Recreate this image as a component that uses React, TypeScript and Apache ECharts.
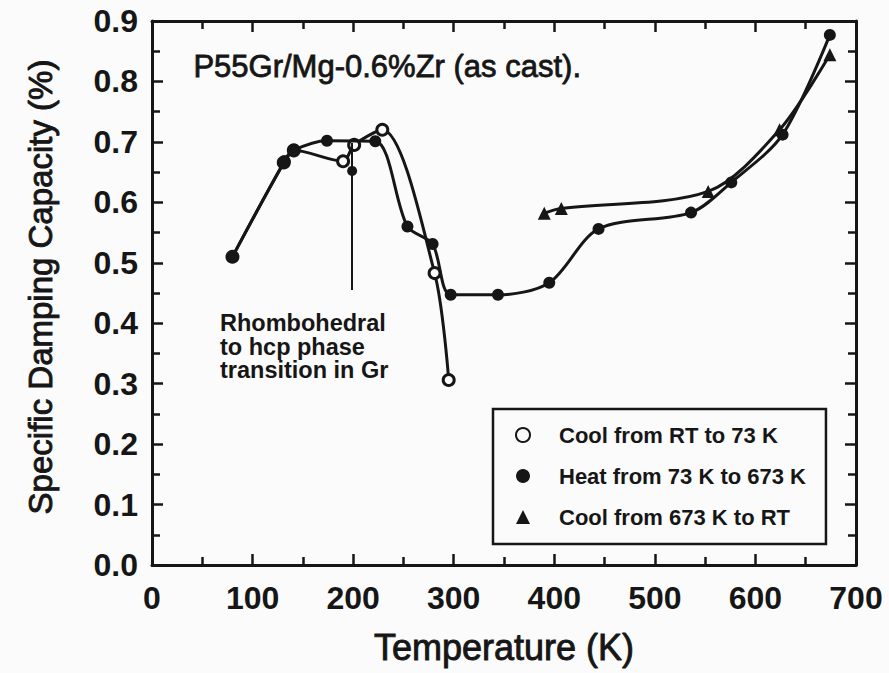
import React, { useEffect, useRef } from "react";
import * as echarts from "echarts";

// Specific damping capacity (%) vs temperature (K), P55Gr/Mg-0.6%Zr as cast
const coolFromRT: [number, number][] = [
  [80, 0.51], [131, 0.666], [141, 0.686], [190, 0.668], [201, 0.695],
  [229, 0.72], [281, 0.483], [295, 0.306],
];
const heatTo673: [number, number][] = [
  [80, 0.51], [132, 0.668], [141, 0.686], [174, 0.702], [222, 0.701],
  [254, 0.56], [279, 0.531], [297, 0.447], [344, 0.447], [395, 0.467],
  [444, 0.556], [536, 0.583], [576, 0.633], [627, 0.712], [674, 0.877],
];
const coolFrom673: [number, number][] = [
  [390, 0.582], [407, 0.59], [553, 0.618], [624, 0.72], [674, 0.844],
];
// phase-transition marker: vertical line and the point it flags
const transitionLine: [number, number][] = [[199, 0.698], [199, 0.455]];
const transitionPoint: [number, number] = [199, 0.652];

const seriesNames = [
  "Cool from RT to 73 K",
  "Heat from 73 K to 673 K",
  "Cool from 673 K to RT",
];
const xTicks = [0, 100, 200, 300, 400, 500, 600, 700];
const yTicks = [0, 0.1, 0.2, 0.3, 0.4, 0.5, 0.6, 0.7, 0.8, 0.9];

const INK = "#161616";
const PAPER = "#fbfbfb";
const FONT = "'Liberation Sans', Arial, Helvetica, sans-serif";

export default function App() {
  const ref = useRef<HTMLDivElement>(null);

  useEffect(() => {
    if (!ref.current) return;
    const chart = echarts.init(ref.current, undefined, { renderer: "svg" });

    const axisCommon = {
      axisLine: { show: true, onZero: false, lineStyle: { color: INK, width: 3 } },
      axisTick: { show: true, inside: true, length: 11, lineStyle: { color: INK, width: 2.5 } },
      minorTick: { show: true, splitNumber: 2, length: 8, lineStyle: { color: INK, width: 2.5 } },
      splitLine: { show: false },
      minorSplitLine: { show: false },
    };

    const xMin = xTicks[0];
    const xMax = xTicks[xTicks.length - 1];
    const xStep = xTicks[1] - xTicks[0];
    const yMin = yTicks[0];
    const yMax = yTicks[yTicks.length - 1];
    const yStep = 0.1;

    // medium-weight titles: regular face with a thin outline
    const titleInk = { color: INK, fontFamily: FONT, textBorderColor: INK, textBorderWidth: 0.9 };

    chart.setOption({
      animation: false,
      backgroundColor: PAPER,
      grid: { left: 152, right: 33, top: 21, bottom: 108, containLabel: false },
      xAxis: [
        {
          ...axisCommon,
          type: "value",
          position: "bottom",
          min: xMin,
          max: xMax,
          interval: xStep,
          axisLabel: {
            color: INK, fontFamily: FONT, fontSize: 32, fontWeight: "bold", margin: 17,
          },
          name: "Temperature (K)",
          nameLocation: "middle",
          nameGap: 64,
          nameTextStyle: { ...titleInk, fontSize: 36 },
        },
        {
          ...axisCommon,
          type: "value",
          position: "top",
          min: xMin,
          max: xMax,
          interval: xStep,
          axisLabel: { show: false },
        },
      ],
      yAxis: [
        {
          ...axisCommon,
          type: "value",
          position: "left",
          min: yMin,
          max: yMax,
          interval: yStep,
          axisLabel: {
            color: INK, fontFamily: FONT, fontSize: 32, fontWeight: "bold", margin: 14,
            formatter: (v: number) => v.toFixed(1),
          },
          name: "Specific Damping Capacity (%)",
          nameLocation: "middle",
          nameGap: 95,
          nameTextStyle: { ...titleInk, fontSize: 33, padding: [0, 0, 0, 12] },
        },
        {
          ...axisCommon,
          type: "value",
          position: "right",
          min: yMin,
          max: yMax,
          interval: yStep,
          axisLabel: { show: false },
        },
      ],
      legend: {
        orient: "vertical",
        left: 493,
        top: 409,
        padding: [15, 20, 16, 22],
        borderColor: INK,
        borderWidth: 2.5,
        backgroundColor: PAPER,
        itemWidth: 14,
        itemHeight: 14,
        itemGap: 19,
        textStyle: {
          color: INK, fontFamily: FONT, fontSize: 22, fontWeight: "bold",
          padding: [0, 0, 0, 24],
        },
        data: [
          { name: seriesNames[0], icon: "circle" },
          { name: seriesNames[1], icon: "circle" },
          { name: seriesNames[2], icon: "triangle" },
        ],
      },
      graphic: [
        {
          type: "text",
          left: 193,
          top: 51,
          style: {
            text: "P55Gr/Mg-0.6%Zr (as cast).",
            fill: INK,
            stroke: INK,
            lineWidth: 0.8,
            font: `31px ${FONT}`,
          },
        },
        {
          type: "text",
          left: 220,
          top: 311,
          style: {
            text: "Rhombohedral\nto hcp phase\ntransition in Gr",
            fill: INK,
            font: `bold 23.5px ${FONT}`,
            lineHeight: 23.5,
          },
        },
      ],
      series: [
        {
          name: seriesNames[1],
          type: "line",
          data: heatTo673,
          smooth: 0.3,
          symbol: "circle",
          symbolSize: 12,
          itemStyle: { color: INK },
          lineStyle: { color: INK, width: 3 },
          z: 4,
          markLine: {
            silent: true,
            symbol: ["none", "none"],
            label: { show: false },
            lineStyle: { color: INK, width: 2, type: "solid" },
            data: [[{ coord: transitionLine[0] }, { coord: transitionLine[1] }]],
          },
          markPoint: {
            silent: true,
            symbol: "circle",
            symbolSize: 10,
            label: { show: false },
            itemStyle: { color: INK },
            data: [{ coord: transitionPoint }],
          },
        },
        {
          name: seriesNames[0],
          type: "line",
          data: coolFromRT,
          smooth: 0.3,
          symbol: "circle",
          symbolSize: 11,
          itemStyle: { color: PAPER, borderColor: INK, borderWidth: 3 },
          lineStyle: { color: INK, width: 3 },
          z: 3,
        },
        {
          name: seriesNames[2],
          type: "line",
          data: coolFrom673,
          smooth: 0.3,
          symbol: "triangle",
          symbolSize: 13,
          itemStyle: { color: INK },
          lineStyle: { color: INK, width: 3 },
          z: 3,
        },
      ],
    });

    return () => chart.dispose();
  }, []);

  return (
    <div
      ref={ref}
      style={{ position: "fixed", left: 0, top: 0, width: 889, height: 673 }}
    />
  );
}
